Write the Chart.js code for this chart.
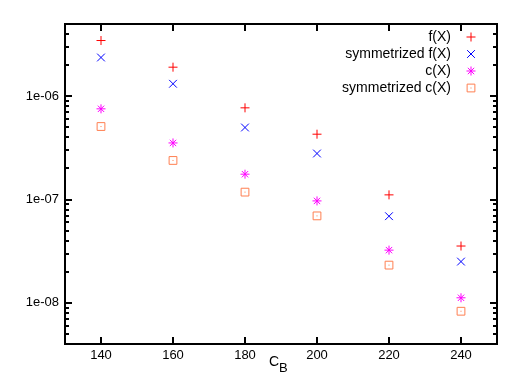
<!DOCTYPE html>
<html>
<head>
<meta charset="utf-8">
<script src="https://cdn.jsdelivr.net/npm/chart.js@4"></script>
<style>
  html, body { margin: 0; padding: 0; background: #fff; }
  #wrap { width: 521px; height: 385px; }
</style>
</head>
<body>
<div id="wrap"><canvas id="chart" width="521" height="385"></canvas></div>
<script>
const cb = [140, 160, 180, 200, 220, 240];
const fX = [3.46e-6, 1.91e-6, 7.72e-7, 4.29e-7, 1.11e-7, 3.55e-8];
const symF = [2.37e-6, 1.32e-6, 4.98e-7, 2.79e-7, 6.9e-8, 2.51e-8];
const cX = [7.55e-7, 3.53e-7, 1.76e-7, 9.7e-8, 3.24e-8, 1.12e-8];
const symC = [5.09e-7, 2.39e-7, 1.18e-7, 6.95e-8, 2.32e-8, 8.3e-9];
const xTicks = [140, 160, 180, 200, 220, 240];
const yLabels = [1e-6, 1e-7, 1e-8];

const FONT = "'Liberation Sans', Arial, sans-serif";

function pts(ys) {
  return cb.map((x, i) => ({ x: x, y: ys[i] }));
}

const series = [
  { label: 'f(X)', data: fX, color: '#ff0000', style: 'cross', r: 4.5 },
  { label: 'symmetrized f(X)', data: symF, color: '#0000ff', style: 'crossRot', r: 5.5 },
  { label: 'c(X)', data: cX, color: '#ff00ff', style: 'star', r: 4.5 },
  { label: 'symmetrized c(X)', data: symC, color: '#ff7f50', style: 'rect', r: 5.5 },
];

// frame + inward ticks, gnuplot style
const frame = {
  id: 'frame',
  afterDraw(chart) {
    const ctx = chart.ctx;
    const a = chart.chartArea;
    const sx = chart.scales.x;
    const sy = chart.scales.y;
    ctx.save();
    ctx.lineWidth = 2;
    ctx.strokeStyle = '#000';
    ctx.strokeRect(a.left, a.top, a.right - a.left, a.bottom - a.top);

    ctx.fillStyle = '#000';
    xTicks.forEach(v => {
      const px = Math.round(sx.getPixelForValue(v));
      ctx.fillRect(px - 1, a.bottom - 7, 2, 7);
      ctx.fillRect(px - 1, a.top, 2, 7);
    });
    [1e-9, 1e-8, 1e-7, 1e-6].forEach(dec => {
      [1, 2, 3, 4, 5, 6, 7, 8, 9].forEach(m => {
        const v = m * dec;
        if (v < 4e-9 || v > 5e-6) return;
        const py = Math.round(sy.getPixelForValue(v));
        const len = m === 1 ? 7 : 4;
        ctx.fillRect(a.left, py - 1, len, 2);
        ctx.fillRect(a.right - len, py - 1, len, 2);
      });
    });

    // x title C_B
    ctx.fillStyle = '#000';
    ctx.textBaseline = 'alphabetic';
    ctx.textAlign = 'left';
    ctx.font = '14px ' + FONT;
    ctx.fillText('C', 269, 366);
    ctx.font = '13px ' + FONT;
    ctx.fillText('B', 279, 372);

    // legend, text right aligned and marker at right
    series.forEach((s, i) => {
      const y = 37 + i * 17;
      ctx.font = '14px ' + FONT;
      ctx.textAlign = 'right';
      ctx.textBaseline = 'middle';
      ctx.fillStyle = '#000';
      ctx.fillText(s.label, 451, y);
      ctx.strokeStyle = s.color;
      ctx.fillStyle = 'rgba(0,0,0,0)';
      ctx.lineWidth = 1;
      Chart.helpers.drawPoint(ctx, { pointStyle: s.style, radius: s.r, borderWidth: 1 }, 471, y);
      if (s.style === 'rect') {
        ctx.fillStyle = s.color;
        ctx.fillRect(470.5, y - 0.5, 1, 1);
      }
    });

    // center dots in the squares
    const meta = chart.getDatasetMeta(3);
    ctx.fillStyle = series[3].color;
    meta.data.forEach(p => ctx.fillRect(p.x - 0.5, p.y - 0.5, 1, 1));
    ctx.restore();
  }
};

new Chart(document.getElementById('chart'), {
  type: 'scatter',
  data: {
    datasets: series.map(s => ({
      label: s.label,
      data: pts(s.data),
      pointStyle: s.style,
      pointRadius: s.r,
      pointHoverRadius: s.r,
      borderColor: s.color,
      backgroundColor: 'rgba(0,0,0,0)',
      pointBorderWidth: 1,
    })),
  },
  options: {
    responsive: false,
    animation: false,
    layout: { padding: { left: 0, top: 24, right: 24, bottom: 0 } },
    plugins: { legend: { display: false }, tooltip: { enabled: false } },
    scales: {
      x: {
        type: 'linear',
        min: 130,
        max: 250,
        afterFit(s) { s.height = 41; },
        afterBuildTicks(s) { s.ticks = xTicks.map(v => ({ value: v })); },
        grid: { display: false, drawTicks: false },
        border: { display: false },
        ticks: { color: '#000', padding: 4, font: { family: FONT, size: 13 } },
      },
      y: {
        type: 'logarithmic',
        min: 4e-9,
        max: 5e-6,
        afterFit(s) { s.width = 65; },
        afterBuildTicks(s) { s.ticks = yLabels.map(v => ({ value: v })); },
        grid: { display: false, drawTicks: false },
        border: { display: false },
        ticks: {
          color: '#000',
          padding: 6,
          font: { family: FONT, size: 13 },
          callback: v => '1e-' + String(Math.round(-Math.log10(v))).padStart(2, '0'),
        },
      },
    },
  },
  plugins: [frame],
});
</script>
</body>
</html>
